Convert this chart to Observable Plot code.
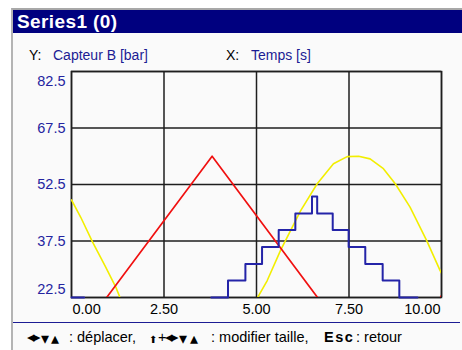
<!DOCTYPE html>
<html><head><meta charset="utf-8">
<script src="https://cdn.jsdelivr.net/npm/d3@7"></script>
<script src="https://cdn.jsdelivr.net/npm/@observablehq/plot@0.6"></script>
<style>
body{margin:0;background:#fff;font-family:"Liberation Sans",Arial,sans-serif;}
#win{position:relative;width:462px;height:350px;overflow:hidden;background:#fff;}
#frame{position:absolute;left:11px;top:8px;width:451px;height:342px;border-left:2px solid #b4b4b4;border-top:2px solid #a8a8a8;background:#fafafa;}
#bar{position:absolute;left:13px;top:10px;width:449px;height:23px;background:#00007f;color:#fff;font-weight:bold;font-size:19px;line-height:23px;padding-left:4px;box-sizing:border-box;letter-spacing:0.4px}
.sub{position:absolute;top:45px;font-size:14px;line-height:20px;color:#000;}
.blue{color:#1c1c94}
#chart{position:absolute;left:0;top:60px;}
#rule{position:absolute;left:13px;top:322px;width:447px;height:0;border-top:1.5px solid #1c1c94;}
.f{position:absolute;top:330px;font-size:14.5px;line-height:15px;color:#000;white-space:nowrap}
.g{position:absolute;top:330px;font-family:"DejaVu Sans";font-size:15px;line-height:15px;color:#000;}
.h{position:absolute;top:331px;font-family:"DejaVu Sans";font-size:16px;line-height:15px;color:#000;}
</style></head>
<body>
<div id="win">
  <div id="frame"></div>
  <div id="bar">Series1 (0)</div>
  <div class="sub" style="left:29px">Y:</div>
  <div class="sub blue" style="left:53px">Capteur B [bar]</div>
  <div class="sub" style="left:226px">X:</div>
  <div class="sub blue" style="left:251px">Temps [s]</div>
  <div id="chart"></div>
  <div id="rule"></div>
  <span class="g" style="left:27px">◂</span><span class="g" style="left:33px">▸</span><span class="h" style="left:41px">▾</span><span class="h" style="left:51px">▴</span>
  <span class="f" style="left:69px">: déplacer,</span>
  <span class="g" style="left:149px;font-size:10px;top:332px">⬆</span>
  <span class="f" style="left:158px">+</span>
  <span class="g" style="left:165px">◂</span><span class="g" style="left:171px">▸</span><span class="h" style="left:179px">▾</span><span class="h" style="left:190px">▴</span>
  <span class="f" style="left:211px">: modifier taille,</span>
  <span class="f" style="left:324px;font-weight:bold;letter-spacing:1.5px">Esc</span>
  <span class="f" style="left:356px">: retour</span>
</div>
<script>
const xTicks = [0, 2.5, 5, 7.5, 10];
const yTicks = [22.5, 37.5, 52.5, 67.5, 82.5];

// Yellow series (sine-like), gap where it falls below the axis
const yellowT = [0, 0.25, 0.57, 0.9, 1.2, 1.31, null, 5.03, 5.29, 5.65, 6.19, 6.64, 7.08, 7.45, 7.76, 8.07, 8.43, 8.75, 9.15, 9.6, 9.96, 10];
const yellowV = [48.4, 43.8, 37.2, 31.0, 25.2, 22.5, NaN, 22.5, 27.0, 35.0, 45.5, 52.7, 58.0, 59.9, 60.0, 59.3, 56.7, 52.7, 46.5, 37.6, 29.7, 29.0];

// Red series (triangle)
const redT = [0.95, 3.8, 6.65, null, 9.96, 10];
const redV = [22.5, 60.0, 22.5, NaN, 22.3, 23.0];

// Blue series (steps)
const blueT = [0, 0.34, null, 3.78, 4.23, 4.70, 5.15, 5.60, 6.05, 6.50, 6.64, 7.06, 7.49, 7.94, 8.41, 8.86, 9.35];
const blueV = [22.5, 22.5, NaN, 22.5, 27.0, 31.4, 35.9, 40.4, 44.8, 49.3, 44.8, 40.4, 35.9, 31.4, 27.0, 22.5, 22.5];

const toRows = (T, V) => T.map((t, i) => ({t: t === null ? NaN : t, v: V[i]}));
const yellow = toRows(yellowT, yellowV);
const red = toRows(redT, redV);
const blue = toRows(blueT, blueV);

const yLab = {tickSize: 0, tickPadding: 6, fill: "#2424a0", label: null, tickFormat: d => d.toFixed(1)};
const xLab = {tickSize: 0, tickPadding: 6, fill: "#000", label: null, tickFormat: d => d.toFixed(2)};

const plot = Plot.plot({
  width: 462, height: 262,
  marginTop: 11, marginBottom: 25, marginLeft: 71, marginRight: 21,
  x: {domain: [0, 10], label: null},
  y: {domain: [22.5, 82.5], label: null},
  style: {background: "transparent", fontFamily: "'Liberation Sans', Arial, sans-serif", fontSize: "14.5px", overflow: "visible"},
  marks: [
    Plot.gridX(xTicks, {stroke: "#1e1e1e", strokeOpacity: 1, strokeWidth: 1.5}),
    Plot.gridY(yTicks, {stroke: "#1e1e1e", strokeOpacity: 1, strokeWidth: 1.5}),
    Plot.frame({stroke: "#1e1e1e", strokeWidth: 1.5}),
    Plot.line(yellow, {x: "t", y: "v", stroke: "#f2ee00", strokeWidth: 1.6, clip: true}),
    Plot.line(red, {x: "t", y: "v", stroke: "#f01010", strokeWidth: 1.7, clip: true}),
    Plot.line(blue, {x: "t", y: "v", curve: "step-after", stroke: "#2424a8", strokeWidth: 2}),
    Plot.axisY(yTicks.filter(d => d !== 22.5 && d !== 82.5), yLab),
    Plot.axisY([82.5], {...yLab, dy: 10}),
    Plot.axisY([22.5], {...yLab, dy: -8}),
    Plot.axisX([2.5, 5, 7.5], xLab),
    Plot.axisX([0], {...xLab, textAnchor: "start", dx: 1}),
    Plot.axisX([10], {...xLab, textAnchor: "end", dx: -1})
  ]
});
document.getElementById("chart").appendChild(plot);
</script>
</body></html>
